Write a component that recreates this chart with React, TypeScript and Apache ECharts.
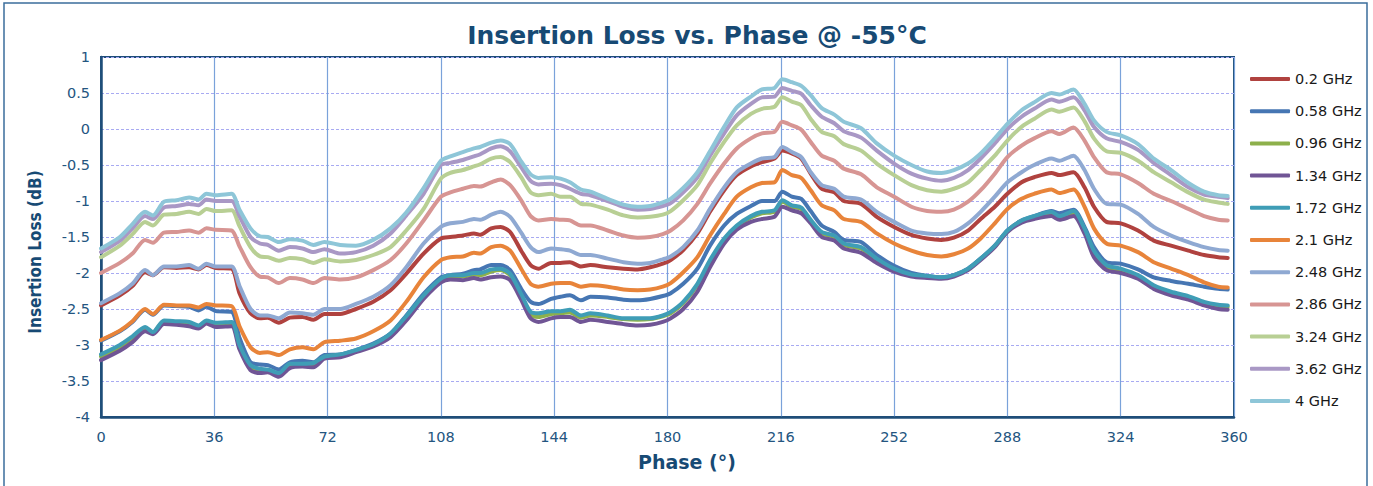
import React, { useEffect, useRef } from "react";
import * as echarts from "echarts";

const phases = [
  0, 6, 10, 14, 16.5, 20, 24, 28, 31, 33.5,
  36.5, 41.5, 44, 47.5, 50.5, 53, 56.5, 60, 64, 67.5,
  71, 76, 81, 86.5, 92, 97, 102.5, 108, 111, 115,
  118.5, 120.5, 124, 127, 130, 133.5, 136.5, 139, 143, 146,
  149, 152.5, 155.5, 161, 166, 170.5, 174.5, 178.5, 181, 185,
  189.5, 193.5, 198, 202, 206.5, 210, 214, 216.5, 219.5, 222.5,
  225.5, 229, 233, 236, 241.5, 246.5, 252, 257.5, 262.5, 267,
  271, 275.5, 279.5, 284, 288, 292.5, 296.5, 302, 304.5, 309,
  312.5, 315.5, 319.5, 324, 329.5, 334.5, 340, 345.5, 350.5, 355,
  358,
];

const s02 = [
  -2.45, -2.31, -2.18, -1.99, -2.03, -1.92, -1.93, -1.92, -1.95, -1.89,
  -1.93, -1.94, -2.28, -2.56, -2.63, -2.62, -2.69, -2.62, -2.61, -2.65,
  -2.57, -2.57, -2.5, -2.4, -2.24, -2.01, -1.73, -1.52, -1.5, -1.48,
  -1.45, -1.47, -1.38, -1.36, -1.43, -1.69, -1.89, -1.94, -1.86, -1.86,
  -1.85, -1.91, -1.89, -1.92, -1.94, -1.95, -1.92, -1.87, -1.82, -1.68,
  -1.45, -1.15, -0.85, -0.64, -0.52, -0.46, -0.41, -0.3, -0.34, -0.41,
  -0.62, -0.83, -0.88, -1.0, -1.04, -1.22, -1.36, -1.47, -1.52, -1.54,
  -1.51, -1.41, -1.25, -1.08, -0.9, -0.74, -0.67, -0.61, -0.64, -0.6,
  -0.81, -1.08, -1.29, -1.31, -1.41, -1.55, -1.62, -1.69, -1.75, -1.78,
  -1.79,
];
const s058 = [
  -2.94, -2.81, -2.68, -2.51, -2.58, -2.45, -2.46, -2.47, -2.52, -2.47,
  -2.53, -2.54, -2.9, -3.24, -3.27, -3.28, -3.34, -3.24, -3.22, -3.24,
  -3.14, -3.13, -3.07, -2.98, -2.84, -2.59, -2.29, -2.06, -2.03, -2.01,
  -1.96, -1.95, -1.89, -1.89, -1.96, -2.22, -2.4, -2.43, -2.36, -2.33,
  -2.31, -2.38, -2.33, -2.34, -2.37, -2.38, -2.36, -2.32, -2.28, -2.15,
  -1.94, -1.62, -1.34, -1.18, -1.07, -1.0, -1.0, -0.87, -0.94, -0.97,
  -1.14, -1.34, -1.43, -1.54, -1.57, -1.75, -1.9, -2.0, -2.04, -2.06,
  -2.03, -1.94, -1.8, -1.62, -1.41, -1.27, -1.21, -1.14, -1.17, -1.12,
  -1.36, -1.64, -1.85, -1.87, -1.95, -2.06, -2.11, -2.15, -2.19, -2.22,
  -2.23,
];
const s096 = [
  -3.16, -3.03, -2.9, -2.76, -2.83, -2.67, -2.69, -2.7, -2.75, -2.68,
  -2.71, -2.7, -3.02, -3.31, -3.36, -3.36, -3.41, -3.29, -3.28, -3.27,
  -3.17, -3.14, -3.08, -3.0, -2.86, -2.62, -2.33, -2.1, -2.05, -2.05,
  -2.02, -2.03, -1.98, -1.96, -2.03, -2.32, -2.58, -2.61, -2.57, -2.56,
  -2.55, -2.62, -2.59, -2.61, -2.64, -2.65, -2.64, -2.6, -2.56, -2.42,
  -2.17, -1.85, -1.55, -1.36, -1.23, -1.17, -1.15, -1.01, -1.08, -1.11,
  -1.28, -1.45, -1.5, -1.61, -1.66, -1.82, -1.95, -2.03, -2.05, -2.07,
  -2.04, -1.95, -1.81, -1.63, -1.42, -1.28, -1.22, -1.17, -1.23, -1.16,
  -1.4, -1.71, -1.91, -1.96, -2.06, -2.2, -2.28, -2.35, -2.42, -2.46,
  -2.47,
];
const s134 = [
  -3.21, -3.08, -2.96, -2.81, -2.85, -2.71, -2.72, -2.74, -2.77, -2.7,
  -2.75, -2.74, -3.06, -3.35, -3.39, -3.38, -3.44, -3.32, -3.3, -3.31,
  -3.19, -3.17, -3.1, -3.02, -2.89, -2.66, -2.36, -2.13, -2.09, -2.1,
  -2.07, -2.09, -2.06, -2.05, -2.1, -2.37, -2.63, -2.68, -2.63, -2.61,
  -2.61, -2.68, -2.65, -2.68, -2.71, -2.73, -2.72, -2.68, -2.63, -2.5,
  -2.26, -1.92, -1.59, -1.4, -1.29, -1.25, -1.22, -1.08, -1.13, -1.17,
  -1.31, -1.5, -1.55, -1.66, -1.72, -1.86, -1.98, -2.05, -2.07, -2.08,
  -2.05, -1.96, -1.82, -1.64, -1.43, -1.3, -1.25, -1.21, -1.26, -1.21,
  -1.45, -1.78, -1.96, -2.0, -2.08, -2.22, -2.31, -2.37, -2.45, -2.5,
  -2.51,
];
const s172 = [
  -3.13, -3.0, -2.88, -2.75, -2.82, -2.66, -2.67, -2.68, -2.73, -2.66,
  -2.69, -2.68, -3.0, -3.28, -3.33, -3.34, -3.39, -3.26, -3.26, -3.25,
  -3.16, -3.13, -3.07, -2.99, -2.84, -2.6, -2.31, -2.08, -2.03, -2.03,
  -2.0, -2.0, -1.95, -1.94, -2.01, -2.29, -2.54, -2.56, -2.53, -2.53,
  -2.51, -2.59, -2.56, -2.59, -2.63, -2.63, -2.63, -2.59, -2.54, -2.4,
  -2.15, -1.82, -1.52, -1.34, -1.21, -1.15, -1.13, -0.99, -1.06, -1.09,
  -1.26, -1.43, -1.48, -1.59, -1.64, -1.8, -1.94, -2.02, -2.04, -2.06,
  -2.03, -1.94, -1.8, -1.62, -1.41, -1.27, -1.21, -1.15, -1.21, -1.14,
  -1.38, -1.69, -1.89, -1.94, -2.03, -2.17, -2.26, -2.32, -2.4, -2.44,
  -2.45,
];
const s21 = [
  -2.93, -2.8, -2.67, -2.5, -2.57, -2.44, -2.45, -2.45, -2.48, -2.43,
  -2.45, -2.46, -2.74, -3.03, -3.11, -3.1, -3.14, -3.06, -3.03, -3.06,
  -2.96, -2.94, -2.91, -2.81, -2.66, -2.4, -2.06, -1.82, -1.78, -1.77,
  -1.72, -1.73, -1.64, -1.62, -1.69, -1.94, -2.15, -2.19, -2.15, -2.14,
  -2.14, -2.19, -2.17, -2.19, -2.23, -2.24, -2.23, -2.19, -2.14, -1.99,
  -1.78, -1.48, -1.18, -0.94, -0.81, -0.75, -0.74, -0.57, -0.64, -0.68,
  -0.85, -1.06, -1.13, -1.25, -1.29, -1.45, -1.59, -1.69, -1.75, -1.77,
  -1.74, -1.66, -1.52, -1.31, -1.11, -0.97, -0.9, -0.84, -0.89, -0.84,
  -1.08, -1.38, -1.59, -1.62, -1.71, -1.85, -1.94, -2.03, -2.13, -2.19,
  -2.2,
];
const s248 = [
  -2.42, -2.28, -2.15, -1.96, -2.03, -1.91, -1.91, -1.89, -1.94, -1.87,
  -1.91, -1.91, -2.18, -2.5, -2.59, -2.59, -2.63, -2.55, -2.56, -2.58,
  -2.5, -2.5, -2.43, -2.33, -2.17, -1.92, -1.59, -1.36, -1.31, -1.29,
  -1.25, -1.26, -1.19, -1.15, -1.22, -1.44, -1.64, -1.71, -1.66, -1.67,
  -1.69, -1.75, -1.75, -1.8, -1.85, -1.87, -1.86, -1.81, -1.77, -1.64,
  -1.41, -1.11, -0.81, -0.6, -0.48, -0.41, -0.39, -0.25, -0.32, -0.39,
  -0.6, -0.78, -0.83, -0.94, -0.98, -1.15, -1.29, -1.41, -1.45, -1.46,
  -1.43, -1.31, -1.15, -0.94, -0.74, -0.6, -0.5, -0.41, -0.44, -0.37,
  -0.57, -0.83, -1.04, -1.05, -1.18, -1.36, -1.48, -1.57, -1.64, -1.68,
  -1.69,
];
const s286 = [
  -2.0, -1.86, -1.73, -1.54, -1.58, -1.44, -1.43, -1.41, -1.44, -1.38,
  -1.4, -1.41, -1.63, -1.92, -2.05, -2.06, -2.14, -2.07, -2.09, -2.14,
  -2.07, -2.09, -2.06, -1.96, -1.82, -1.59, -1.27, -0.94, -0.88, -0.83,
  -0.79, -0.8, -0.74, -0.7, -0.78, -0.99, -1.21, -1.27, -1.25, -1.26,
  -1.27, -1.34, -1.34, -1.41, -1.48, -1.51, -1.5, -1.46, -1.41, -1.27,
  -1.04, -0.76, -0.48, -0.27, -0.13, -0.06, -0.04, 0.1, 0.05, -0.01,
  -0.18, -0.37, -0.44, -0.55, -0.63, -0.81, -0.94, -1.08, -1.14, -1.15,
  -1.12, -1.01, -0.85, -0.62, -0.39, -0.23, -0.13, -0.03, -0.07, 0.02,
  -0.16, -0.39, -0.6, -0.63, -0.75, -0.9, -1.0, -1.11, -1.21, -1.26,
  -1.27,
];
const s324 = [
  -1.78, -1.62, -1.46, -1.29, -1.34, -1.19, -1.18, -1.15, -1.18, -1.11,
  -1.14, -1.13, -1.35, -1.64, -1.77, -1.78, -1.83, -1.79, -1.81, -1.86,
  -1.81, -1.84, -1.82, -1.75, -1.64, -1.41, -1.11, -0.69, -0.61, -0.57,
  -0.52, -0.49, -0.41, -0.39, -0.46, -0.67, -0.88, -0.92, -0.9, -0.94,
  -0.94, -1.04, -1.05, -1.12, -1.2, -1.23, -1.22, -1.19, -1.14, -0.99,
  -0.78, -0.48, -0.18, 0.05, 0.21, 0.28, 0.31, 0.44, 0.38, 0.33,
  0.14, -0.04, -0.1, -0.21, -0.3, -0.48, -0.64, -0.78, -0.85, -0.87,
  -0.83, -0.74, -0.57, -0.37, -0.16, 0.03, 0.14, 0.27, 0.24, 0.3,
  0.11, -0.13, -0.31, -0.33, -0.44, -0.6, -0.74, -0.88, -0.98, -1.02,
  -1.04,
];
const s362 = [
  -1.71, -1.55, -1.38, -1.21, -1.25, -1.09, -1.07, -1.04, -1.06, -0.98,
  -1.0, -1.0, -1.21, -1.5, -1.59, -1.61, -1.69, -1.64, -1.66, -1.71,
  -1.67, -1.73, -1.71, -1.62, -1.45, -1.2, -0.9, -0.5, -0.47, -0.43,
  -0.38, -0.35, -0.27, -0.24, -0.31, -0.53, -0.72, -0.77, -0.76, -0.78,
  -0.83, -0.9, -0.92, -1.0, -1.08, -1.12, -1.11, -1.07, -1.03, -0.88,
  -0.67, -0.37, -0.06, 0.19, 0.35, 0.44, 0.45, 0.57, 0.53, 0.49,
  0.33, 0.17, 0.08, -0.03, -0.12, -0.3, -0.48, -0.62, -0.69, -0.72,
  -0.68, -0.57, -0.41, -0.2, 0.0, 0.17, 0.28, 0.41, 0.38, 0.44,
  0.26, 0.03, -0.13, -0.18, -0.29, -0.47, -0.64, -0.81, -0.91, -0.94,
  -0.96,
];
const s4 = [
  -1.66, -1.5, -1.32, -1.15, -1.2, -1.01, -0.99, -0.95, -0.98, -0.9,
  -0.92, -0.9, -1.12, -1.38, -1.49, -1.5, -1.57, -1.53, -1.55, -1.61,
  -1.57, -1.61, -1.62, -1.54, -1.38, -1.16, -0.82, -0.44, -0.38, -0.32,
  -0.27, -0.25, -0.19, -0.16, -0.21, -0.45, -0.63, -0.68, -0.67, -0.69,
  -0.74, -0.84, -0.87, -0.97, -1.05, -1.08, -1.07, -1.02, -0.97, -0.82,
  -0.6, -0.31, 0.03, 0.3, 0.45, 0.55, 0.57, 0.69, 0.65, 0.6,
  0.47, 0.29, 0.2, 0.1, 0.01, -0.2, -0.37, -0.5, -0.59, -0.61,
  -0.57, -0.48, -0.34, -0.13, 0.07, 0.26, 0.37, 0.5, 0.48, 0.55,
  0.35, 0.12, -0.04, -0.09, -0.21, -0.41, -0.57, -0.75, -0.87, -0.92,
  -0.93,
];

const seriesNames = [
  "0.2 GHz", "0.58 GHz", "0.96 GHz", "1.34 GHz", "1.72 GHz", "2.1 GHz",
  "2.48 GHz", "2.86 GHz", "3.24 GHz", "3.62 GHz", "4 GHz",
];
const seriesValues = [s02, s058, s096, s134, s172, s21, s248, s286, s324, s362, s4];
const seriesColors = [
  "#B0423F", "#4676B3", "#8DB04B", "#705595", "#3F9DB6", "#E8843A",
  "#8FA9D2", "#D79593", "#B8CF94", "#A998C5", "#8EC6D8",
];

export default function App() {
  const ref = useRef<HTMLDivElement>(null);
  useEffect(() => {
    if (!ref.current) return;
    const chart = echarts.init(ref.current, undefined, { renderer: "svg" });
    const font = "DejaVu Sans, Verdana, sans-serif";
    chart.setOption({
      animation: false,
      backgroundColor: "#ffffff",
      grid: {
        left: 101,
        right: 139,
        top: 57,
        bottom: 69,
        show: true,
        borderColor: "#1F4E79",
        borderWidth: 2,
      },
      legend: {
        orient: "vertical",
        left: 1245,
        top: 66,
        itemWidth: 40,
        itemHeight: 4,
        itemGap: 16.2,
        icon: "roundRect",
        textStyle: { fontFamily: font, fontSize: 14.5, color: "#1a1a1a", lineHeight: 16 },
        data: seriesNames,
      },
      xAxis: {
        type: "value",
        min: 0,
        max: 360,
        interval: 36,
        axisLine: { show: true, onZero: false, lineStyle: { color: "#1F4E79", width: 2.5 } },
        axisTick: { show: false },
        axisLabel: { fontFamily: font, fontSize: 14.5, color: "#24557F", margin: 12 },
        splitLine: { show: true, lineStyle: { color: "#7AA2DA", width: 1.2 } },
      },
      yAxis: {
        type: "value",
        min: -4,
        max: 1,
        interval: 0.5,
        axisLine: { show: true, onZero: false, lineStyle: { color: "#1F4E79", width: 2.5 } },
        axisTick: { show: false },
        axisLabel: { fontFamily: font, fontSize: 14.5, color: "#24557F", margin: 11 },
        splitLine: { show: true, lineStyle: { color: "#A8AAF2", width: 1, type: [3, 2] } },
      },
      graphic: [
        {
          type: "rect",
          shape: { x: 4, y: 3, width: 1363, height: 495 },
          style: { fill: "none", stroke: "#3B6E9C", lineWidth: 1.5 },
          silent: true,
        },
        {
          type: "text",
          x: 697,
          y: 35,
          style: {
            text: "Insertion Loss vs. Phase @ -55°C",
            fontFamily: font,
            fontWeight: "bold",
            fontSize: 25,
            fill: "#174A74",
            align: "center",
            verticalAlign: "middle",
          },
        },
        {
          type: "text",
          x: 687,
          y: 462,
          style: {
            text: "Phase (°)",
            fontFamily: font,
            fontWeight: "bold",
            fontSize: 19,
            fill: "#174A74",
            align: "center",
            verticalAlign: "middle",
          },
        },
        {
          type: "text",
          x: 35,
          y: 252,
          rotation: Math.PI / 2,
          style: {
            text: "Insertion Loss (dB)",
            fontFamily: "DejaVu Sans Condensed, DejaVu Sans, sans-serif",
            fontWeight: "bold",
            fontSize: 17,
            fill: "#174A74",
            align: "center",
            verticalAlign: "middle",
          },
        },
      ],
      series: seriesNames.map((name, k) => ({
        name,
        type: "line",
        data: phases.map((p, i) => [p, seriesValues[k][i]]),
        smooth: 0.25,
        showSymbol: false,
        symbol: "none",
        lineStyle: { color: seriesColors[k], width: 4, cap: "round", join: "round" },
        itemStyle: { color: seriesColors[k] },
      })),
    });
    return () => chart.dispose();
  }, []);
  return (
    <div
      ref={ref}
      style={{ position: "fixed", left: 0, top: 0, width: 1373, height: 486 }}
    />
  );
}
